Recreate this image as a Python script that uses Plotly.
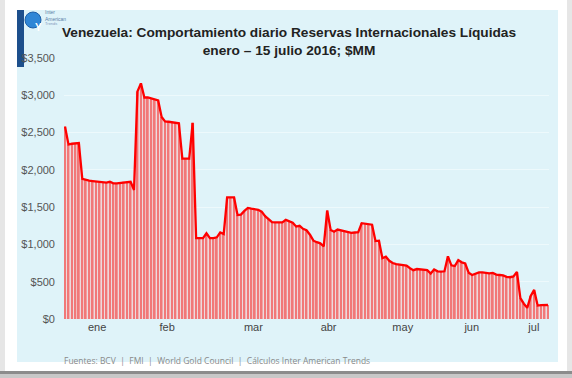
import plotly.graph_objects as go

# Daily liquid international reserves (US$ MM), business days Jan 1 - Jul 15 2016
reserves = [
    2580, 2340, 2350, 2355, 2360, 1880, 1865, 1855, 1850, 1845,
    1835, 1835, 1830, 1840, 1820, 1820, 1825, 1840, 1845, 1840,
    1730, 3050, 3160, 2970, 2970, 2960, 2945, 2930, 2710, 2650,
    2645, 2640, 2635, 2625, 2150, 2145, 2150, 2630, 1085, 1085,
    1085, 1150, 1085, 1085, 1095, 1160, 1140, 1630, 1630, 1630,
    1395, 1400, 1450, 1490, 1480, 1475, 1465, 1440, 1380, 1340,
    1300, 1295, 1290, 1295, 1330, 1310, 1290, 1240, 1250, 1210,
    1190, 1130, 1050, 1030, 1015, 975, 1455, 1195, 1170, 1200,
    1190, 1180, 1165, 1155, 1160, 1165, 1285, 1275, 1265, 1265,
    1045, 1050, 815, 835, 780, 750, 735, 730, 720, 715,
    680, 655, 670, 665, 655, 655, 610, 665, 640, 635,
    640, 840, 720, 710, 790, 760, 745, 620, 590, 610,
    625, 625, 620, 612, 618, 595, 590, 585, 565, 560,
    570, 630, 280, 205, 150, 310, 390, 180, 185, 188,
    188,
]
day_index = list(range(len(reserves)))

month_labels = ["ene", "feb", "mar", "abr", "may", "jun", "jul"]
month_tick_pos = [9.3, 29.6, 54.6, 76.4, 97.9, 117.9, 135.9]

y_ticks = [0, 500, 1000, 1500, 2000, 2500, 3000, 3500]
y_tick_text = ["$0", "$500", "$1,000", "$1,500", "$2,000", "$2,500", "$3,000", "$3,500"]

W, H = 572, 378
L, R, T, B = 64, 23, 58, 59
PW = W - L - R
PH = H - T - B


def px(x):
    return (x - L) / PW


def py(y):
    return (H - B - y) / PH


fig = go.Figure()

# pale background bars (full width) and narrow red stripes on top
fig.add_trace(go.Bar(
    x=day_index, y=reserves, width=1.0,
    marker=dict(color="#f0d3d6", line=dict(width=0)),
    showlegend=False, hoverinfo="skip",
))
fig.add_trace(go.Bar(
    x=day_index, y=reserves, width=0.5,
    marker=dict(color="#f17878", line=dict(width=0)),
    showlegend=False,
))
fig.add_trace(go.Scatter(
    x=day_index, y=reserves, mode="lines",
    line=dict(color="#ff0000", width=2.3), showlegend=False,
))

shapes = []
# outer frame
shapes.append(dict(type="rect", xref="paper", yref="paper", x0=px(0), x1=px(W), y0=py(H), y1=py(0),
                   fillcolor="#e6e6e6", line=dict(width=0), layer="below"))
shapes.append(dict(type="rect", xref="paper", yref="paper", x0=px(0), x1=px(W), y0=py(H), y1=py(371),
                   fillcolor="#8c8c8c", line=dict(width=0), layer="below"))
shapes.append(dict(type="rect", xref="paper", yref="paper", x0=px(0), x1=px(W), y0=py(H), y1=py(374),
                   fillcolor="#c8c8c8", line=dict(width=0), layer="below"))
shapes.append(dict(type="rect", xref="paper", yref="paper", x0=px(5), x1=px(567), y0=py(371), y1=py(0),
                   fillcolor="#ffffff", line=dict(width=0), layer="below"))
# light blue panel
shapes.append(dict(type="rect", xref="paper", yref="paper", x0=px(17), x1=px(558), y0=py(362), y1=py(10),
                   fillcolor="#dff3f9", line=dict(width=0), layer="below"))
# dark blue accent bar
shapes.append(dict(type="rect", xref="paper", yref="paper", x0=px(17), x1=px(24), y0=py(67), y1=py(10),
                   fillcolor="#1d4f8c", line=dict(width=0), layer="below"))
# logo globe
shapes.append(dict(type="circle", xref="paper", yref="paper", x0=px(25), x1=px(41), y0=py(28), y1=py(12),
                   fillcolor="#2f86d6", line=dict(color="#1c5fa8", width=1), layer="below"))

fig.update_layout(shapes=shapes)

fig.add_annotation(x=px(33), y=py(20), xref="paper", yref="paper", text="<b>Y</b>", showarrow=False,
                   font=dict(family="Liberation Sans, Arial", size=10, color="#ffffff"))
fig.add_annotation(x=px(43), y=py(16), xref="paper", yref="paper", xanchor="left", yanchor="middle",
                   text="Inter<br>American", showarrow=False, align="left",
                   font=dict(family="Liberation Sans, Arial", size=5, color="#5a7fa8"))
fig.add_annotation(x=px(43), y=py(23.5), xref="paper", yref="paper", xanchor="left", yanchor="middle",
                   text="Trends", showarrow=False, align="left",
                   font=dict(family="Liberation Sans, Arial", size=4, color="#7f9bbb"))

title_font = dict(family="Liberation Sans, Arial", size=13.7, color="#222222")
fig.add_annotation(x=px(289), y=py(41.5), xref="paper", yref="paper", xanchor="center", yanchor="middle",
                   text="<b>Venezuela: Comportamiento diario Reservas Internacionales Líquidas<br>enero – 15 julio 2016; $MM</b>",
                   showarrow=False, align="center", font=title_font)

fig.add_annotation(x=px(62), y=py(360), xref="paper", yref="paper", xanchor="left", yanchor="middle",
                   text="Fuentes: BCV  |  FMI  |  World Gold Council  |  Cálculos Inter American Trends",
                   showarrow=False,
                   font=dict(family="Open Sans, Liberation Sans", size=8.5, color="#8a8a8a"))

fig.update_layout(
    width=W, height=H,
    margin=dict(l=L, r=R, t=T, b=B, pad=0),
    paper_bgcolor="#ffffff",
    plot_bgcolor="rgba(0,0,0,0)",
    barmode="overlay",
    xaxis=dict(range=[-0.3, 140.3], tickvals=month_tick_pos, ticktext=month_labels,
               showgrid=False, zeroline=False, showline=False, ticks="",
               tickfont=dict(family="Liberation Sans, Arial", size=11, color="#444444")),
    yaxis=dict(range=[0, 3500], tickvals=y_ticks, ticktext=y_tick_text,
               showgrid=True, gridcolor="#edf9fc", gridwidth=1, zeroline=False, ticks="",
               ticklabelstandoff=8,
               tickfont=dict(family="Liberation Sans, Arial", size=11, color="#555555")),
    font=dict(family="Liberation Sans, Arial"),
)

fig.write_html("out.html", config={"displayModeBar": False},
               post_script="document.body.style.margin='0';")
